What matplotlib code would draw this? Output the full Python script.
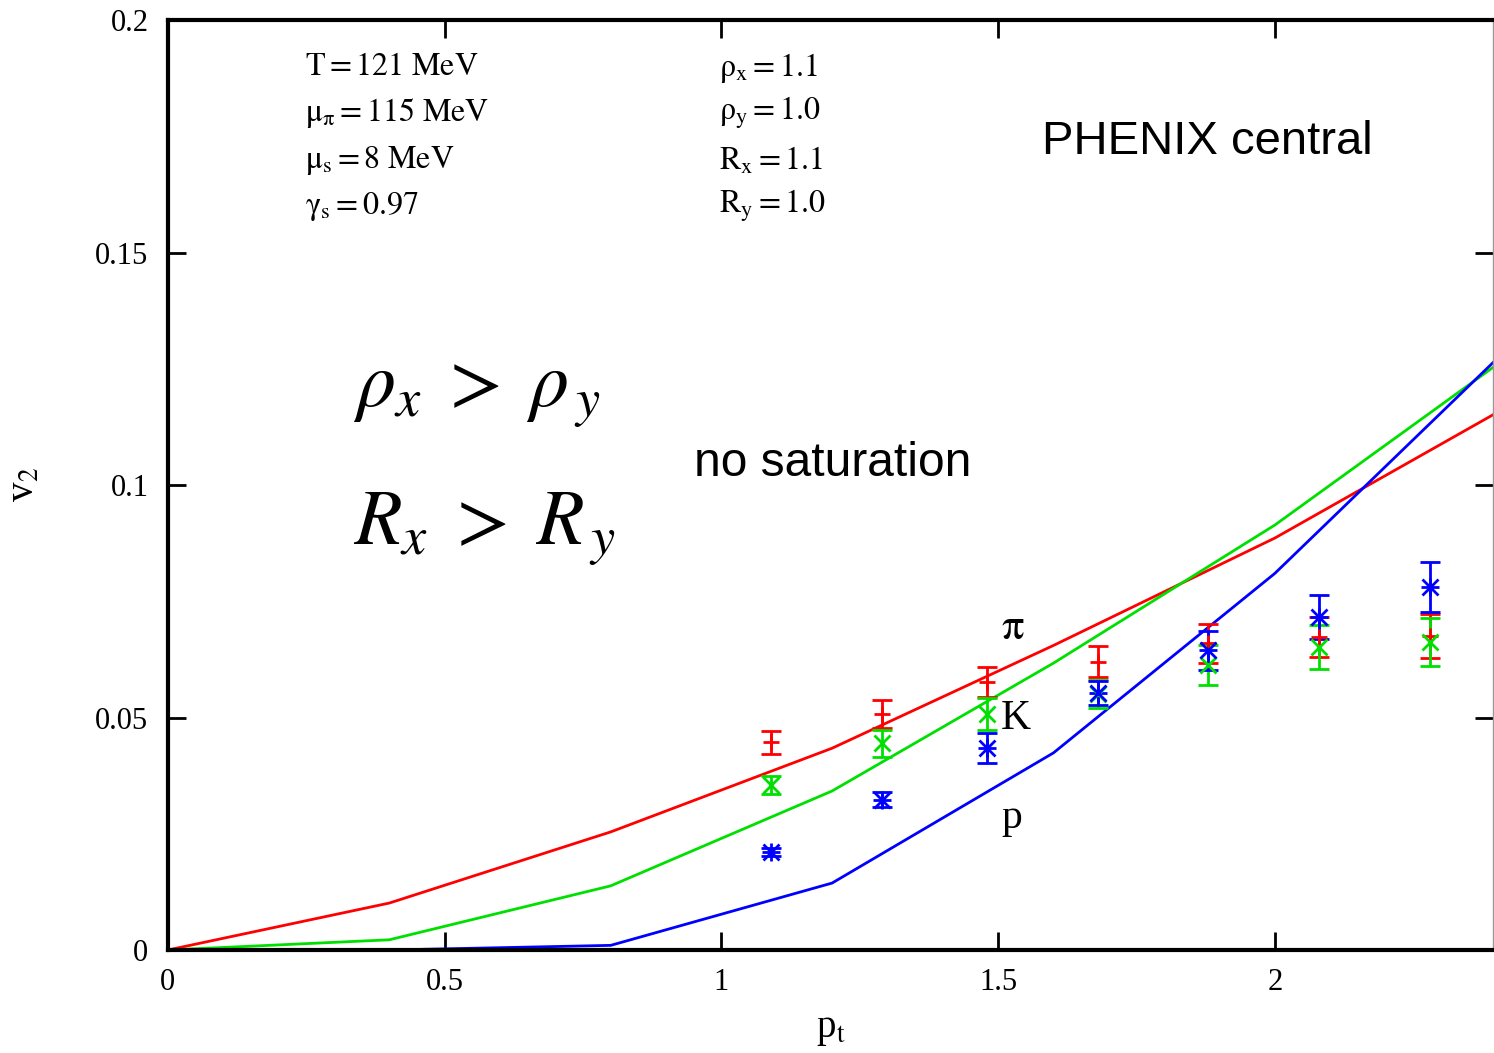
import matplotlib.pyplot as plt

plt.rcParams['font.family'] = ['Liberation Serif', 'DejaVu Serif']
plt.rcParams['mathtext.fontset'] = 'stix'

# model curves (pt grid)
pt_curve = [0.0, 0.4, 0.8, 1.2, 1.6, 2.0, 2.4]
v2_pi_curve = [0.0, 0.0101, 0.0254, 0.0434, 0.0655, 0.0886, 0.1155]
v2_k_curve = [0.0, 0.0022, 0.0138, 0.0342, 0.0617, 0.0914, 0.1258]
v2_p_curve = [0.0, 0.0, 0.001, 0.0144, 0.0424, 0.081, 0.127]

# PHENIX central data
pt_data = [1.09, 1.29, 1.48, 1.68, 1.88, 2.08, 2.28]
v2_pi = [0.0447, 0.0508, 0.0576, 0.0620, 0.0660, 0.0673, 0.0675]
err_pi = [0.0025, 0.0030, 0.0032, 0.0033, 0.0042, 0.0043, 0.0047]
v2_k = [0.0355, 0.0445, 0.0508, 0.0550, 0.0613, 0.0651, 0.0663]
err_k = [0.0020, 0.0029, 0.0034, 0.0030, 0.0044, 0.0047, 0.0052]
v2_p = [0.0211, 0.0323, 0.0434, 0.0553, 0.0645, 0.0716, 0.0781]
err_p = [0.0008, 0.0016, 0.0032, 0.0026, 0.0042, 0.0048, 0.0054]

fig = plt.figure(figsize=(14.94, 10.53), dpi=100)
ax = fig.add_axes([0.1124, 0.0978, 0.8869, 0.8832])

ax.plot(pt_curve, v2_pi_curve, color='#ff0000', lw=2)
ax.plot(pt_curve, v2_k_curve, color='#00e000', lw=2)
ax.plot(pt_curve, v2_p_curve, color='#0000ff', lw=2)

ax.errorbar(pt_data, v2_pi, yerr=err_pi, fmt='+', color='#ff0000', ms=12, mew=2,
            elinewidth=2, capsize=7, capthick=2)
ax.errorbar(pt_data, v2_k, yerr=err_k, fmt='x', color='#00e000', ms=11, mew=2,
            elinewidth=2, capsize=7, capthick=2)
ax.errorbar(pt_data, v2_p, yerr=err_p, fmt='x', color='#0000ff', ms=11, mew=2,
            elinewidth=2, capsize=7, capthick=2)
ax.plot(pt_data, v2_p, '+', color='#0000ff', ms=13, mew=2, ls='none')

ax.set_xlim(0, 2.394)
ax.set_ylim(0, 0.2)
ax.set_xticks([0, 0.5, 1, 1.5, 2])
ax.set_xticklabels(['0', '0.5', '1', '1.5', '2'])
ax.set_yticks([0, 0.05, 0.1, 0.15, 0.2])
ax.set_yticklabels(['0', '0.05', '0.1', '0.15', '0.2'])
ax.tick_params(direction='in', length=13, width=2, labelsize=22, top=True, right=True)
ax.tick_params(axis='x', pad=13)
ax.tick_params(axis='y', pad=14)

for side in ['left', 'bottom', 'top']:
    ax.spines[side].set_linewidth(3)
ax.spines['right'].set_linewidth(1)
ax.spines['right'].set_color('#999999')

ax.set_xlabel(r'p$_\mathrm{t}$', fontsize=28, labelpad=10)
ax.set_ylabel(r'v$_2$', fontsize=28, labelpad=38)

left_txt = [r'$\mathrm{T = 121\ MeV}$', r'$\mathrm{\mu_\pi = 115\ MeV}$',
            r'$\mathrm{\mu_s = 8\ MeV}$', r'$\mathrm{\gamma_s = 0.97}$']
right_txt = [r'$\mathrm{\rho_x = 1.1}$', r'$\mathrm{\rho_y = 1.0}$',
             r'$\mathrm{R_x = 1.1}$', r'$\mathrm{R_y = 1.0}$']
ys = [0.1897, 0.1800, 0.1698, 0.1600]
for s, y in zip(left_txt, ys):
    ax.text(0.248, y, s, fontsize=23, va='center', ha='left')
for s, y in zip(right_txt, ys):
    ax.text(0.995, y, s, fontsize=23, va='center', ha='left')

ax.text(1.579, 0.1737, 'PHENIX central', fontsize=34, family=['Liberation Sans'],
        va='center', ha='left')
ax.text(0.95, 0.1046, 'no saturation', fontsize=34.5, family=['Liberation Sans'],
        va='center', ha='left')

ax.text(0.335, 0.1195, r'$\rho_{x}\;>\;\rho_{\,y}$', fontsize=56, va='center', ha='left')
ax.text(0.335, 0.0905, r'$R_{x}\;>\;R_{\,y}$', fontsize=56, va='center', ha='left')

ax.text(1.505, 0.0692, r'$\mathrm{\pi}$', fontsize=32, va='center', ha='left')
ax.text(1.505, 0.0497, 'K', fontsize=30, va='center', ha='left')
ax.text(1.505, 0.0285, 'p', fontsize=30, va='center', ha='left')

fig.savefig('out.png', dpi=100)
